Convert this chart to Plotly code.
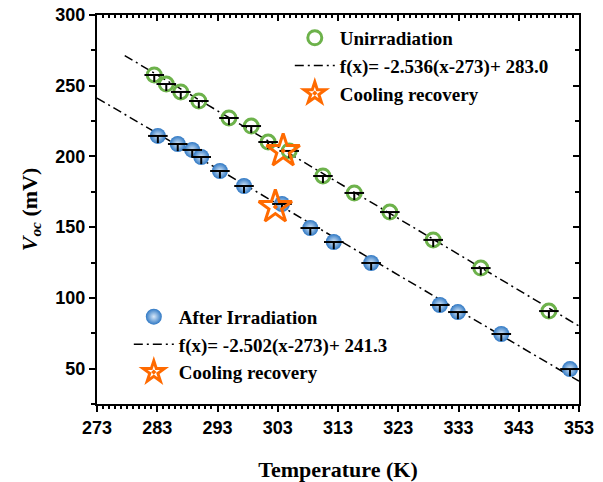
import plotly.graph_objects as go

# ---- data ----
T_unirr = [282.5, 284.5, 286.9, 289.9, 294.9, 298.6, 301.4, 304.9, 310.5, 315.7, 321.6, 328.8, 336.7, 348.0]
V_unirr = [257.6, 251.2, 245.6, 239.2, 227.2, 221.5, 210.2, 203.9, 186.2, 174.2, 160.7, 141.0, 121.1, 90.7]

T_irr = [283.1, 286.4, 288.8, 290.3, 293.4, 297.4, 303.7, 308.4, 312.3, 318.5, 329.9, 332.9, 340.1, 351.5]
V_irr = [214.5, 208.8, 204.6, 199.6, 189.7, 179.1, 166.4, 149.4, 139.5, 124.7, 95.0, 90.0, 74.5, 49.7]

T_cool_unirr = [303.9]
V_cool_unirr = [203.9]
T_cool_irr = [302.6]
V_cool_irr = [164.3]

# fit lines (from legend formulas)
fit_unirr_slope, fit_unirr_icpt = -2.536, 283.0
fit_irr_slope, fit_irr_icpt = -2.502, 241.3
fit_unirr_T = [277.6, 353.0]
fit_irr_T = [273.0, 353.0]

err_down = 5.0

serif = "Liberation Serif"
sans = "Liberation Sans"
green = "#6db24b"
blue = "#2f78c4"
orange = "#ff6a00"
dashdot = "9px,4px,2px,4px"

fig = go.Figure()

def fit_y(Ts, m, b):
    return [m * (t - 273) + b for t in Ts]

# fit lines
fig.add_trace(go.Scatter(x=fit_unirr_T, y=fit_y(fit_unirr_T, fit_unirr_slope, fit_unirr_icpt),
                         mode="lines", line=dict(color="black", width=1.5, dash=dashdot),
                         name="f(x)= -2.536(x-273)+ 283.0", legend="legend", legendrank=2))
fig.add_trace(go.Scatter(x=fit_irr_T, y=fit_y(fit_irr_T, fit_irr_slope, fit_irr_icpt),
                         mode="lines", line=dict(color="black", width=1.5, dash=dashdot),
                         name="f(x)= -2.502(x-273)+ 241.3", legend="legend2", legendrank=2))

# data markers
fig.add_trace(go.Scatter(x=T_unirr, y=V_unirr, mode="markers", name="Unirradiation",
                         marker=dict(symbol="circle-open", size=14, color=green, line=dict(width=3, color=green)),
                         legend="legend", legendrank=1))
fig.add_trace(go.Scatter(x=T_irr, y=V_irr, mode="markers", name="After Irradiation",
                         marker=dict(symbol="circle", size=16, color=blue,
                                     gradient=dict(type="radial", color="#d8e8f8"),
                                     line=dict(width=0)),
                         legend="legend2", legendrank=1))

# error-bar glyphs on top
for Ts, Vs in [(T_unirr, V_unirr), (T_irr, V_irr)]:
    fig.add_trace(go.Scatter(x=Ts, y=Vs, mode="markers", showlegend=False, hoverinfo="skip",
                             marker=dict(symbol="line-ew", size=14, color="black", line=dict(width=2, color="black")),
                             error_y=dict(type="data", symmetric=False, array=[0] * len(Vs),
                                          arrayminus=[err_down] * len(Vs), width=0, thickness=2, color="black")))

# stars
fig.add_trace(go.Scatter(x=T_cool_unirr, y=V_cool_unirr, mode="markers", name="Cooling recovery",
                         marker=dict(symbol="star-open-dot", size=25, color=orange, line=dict(width=3, color=orange)),
                         legend="legend", legendrank=3))
fig.add_trace(go.Scatter(x=T_cool_irr, y=V_cool_irr, mode="markers", name="Cooling recovery",
                         marker=dict(symbol="star-open-dot", size=25, color=orange, line=dict(width=3, color=orange)),
                         legend="legend2", legendrank=3))

# dummy trace for mirror axes
fig.add_trace(go.Scatter(x=[300], y=[100], xaxis="x2", yaxis="y2", mode="markers",
                         marker=dict(opacity=0), showlegend=False, hoverinfo="skip"))

axis_common = dict(showline=True, linecolor="black", linewidth=2, showgrid=False, zeroline=False,
                   tickcolor="black", tickwidth=2, automargin=False)

legend_font = dict(family=serif, size=19, color="black", weight="bold")

fig.update_layout(
    width=603, height=482,
    margin=dict(l=97, r=24, t=15, b=78, autoexpand=False),
    plot_bgcolor="white", paper_bgcolor="white",
    xaxis=dict(range=[273, 353], tick0=273, dtick=10, ticks="outside", ticklen=6,
               minor=dict(dtick=1, ticks="outside", ticklen=3, tickcolor="black", tickwidth=1.5),
               tickfont=dict(family=sans, size=18, color="black", weight="bold"),
               title=dict(text="<b>Temperature (K)</b>", font=dict(family=serif, size=22, color="black"), standoff=27),
               **axis_common),
    yaxis=dict(range=[25, 300], tick0=0, dtick=50, ticks="outside", ticklen=6,
               minor=dict(dtick=25, ticks="outside", ticklen=4, tickcolor="black", tickwidth=1.5),
               tickfont=dict(family=sans, size=18, color="black", weight="bold"),
               title=dict(text="<b><i>V</i><sub><i>oc</i></sub> (mV)</b>", font=dict(family=serif, size=22, color="black"), standoff=12),
               **axis_common),
    xaxis2=dict(range=[273, 353], overlaying="x", side="top", tick0=273, dtick=10, ticks="inside", ticklen=6,
                showticklabels=False,
                minor=dict(dtick=1, ticks="inside", ticklen=3, tickcolor="black", tickwidth=1.5),
                **axis_common),
    yaxis2=dict(range=[25, 300], overlaying="y", side="right", tick0=0, dtick=50, ticks="inside", ticklen=6,
                showticklabels=False,
                minor=dict(dtick=25, ticks="inside", ticklen=4, tickcolor="black", tickwidth=1.5),
                **axis_common),
    legend=dict(x=0.40, y=0.99, xanchor="left", yanchor="top", bgcolor="rgba(0,0,0,0)",
                font=legend_font, tracegroupgap=0, itemwidth=40),
    legend2=dict(x=0.066, y=0.273, xanchor="left", yanchor="top", bgcolor="rgba(0,0,0,0)",
                 font=legend_font, tracegroupgap=0, itemwidth=40),
)

fig.write_html("out.html")
